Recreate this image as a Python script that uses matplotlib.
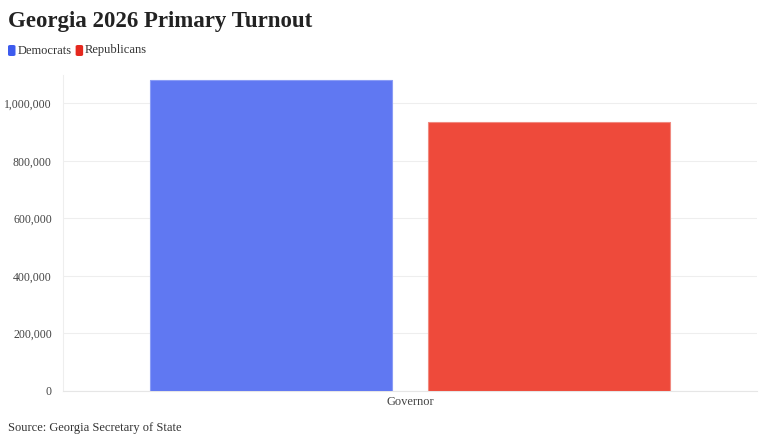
import matplotlib
matplotlib.use("Agg")
import matplotlib.pyplot as plt
from matplotlib.patches import FancyBboxPatch
from matplotlib.ticker import FuncFormatter

categories = ["Governor"]
parties = ["Democrats", "Republicans"]
dem_votes = [1081000]
rep_votes = [934000]
bar_colors = ["#6078F2", "#EE4A3B"]
legend_colors = ["#3D5BEE", "#E5281E"]
yticks = [0, 200000, 400000, 600000, 800000, 1000000]

plt.rcParams["font.family"] = ["Liberation Serif", "DejaVu Serif"]

fig = plt.figure(figsize=(7.68, 4.43), dpi=100)
ax = fig.add_axes([0.082, 0.118, 0.9037, 0.7136])

x = list(range(len(categories)))
w = 0.348
ax.bar([i - 0.2 for i in x], dem_votes, width=w, color=bar_colors[0],
       edgecolor="#8a9cf5", linewidth=0.8, zorder=3)
ax.bar([i + 0.2 for i in x], rep_votes, width=w, color=bar_colors[1],
       edgecolor="#f08a80", linewidth=0.8, zorder=3)

ax.set_xlim(-0.5, 0.5)
ax.set_ylim(0, 1100000)
ax.set_yticks(yticks)
ax.yaxis.set_major_formatter(FuncFormatter(lambda v, p: f"{int(v):,}"))
ax.set_xticks(x)
ax.set_xticklabels(categories)
ax.tick_params(axis="both", length=0, colors="#444444")
ax.tick_params(axis="y", labelsize=8.5, pad=8)
ax.tick_params(axis="x", labelsize=9, pad=4)
ax.grid(axis="y", color="#eeeeee", linewidth=0.8, zorder=0)
for s in ["top", "right"]:
    ax.spines[s].set_visible(False)
ax.spines["left"].set_color("#eeeeee")
ax.spines["bottom"].set_color("#e6e6e6")

fig.text(0.01, 1 - 21 / 443, "Georgia 2026 Primary Turnout", fontsize=16.5,
         fontweight="bold", color="#222222", va="center")

# legend
lx = 8
for name, c in zip(parties, legend_colors):
    fig.patches.append(FancyBboxPatch((lx / 768, 1 - 56 / 443), 7.5 / 768, 11 / 443,
                                      boxstyle="round,pad=0,rounding_size=0.003",
                                      transform=fig.transFigure, facecolor=c,
                                      edgecolor="none"))
    t = fig.text((lx + 9.5) / 768, 1 - 50.5 / 443, name, fontsize=9,
                 color="#333333", va="center")
    fig.canvas.draw()
    bb = t.get_window_extent()
    lx = bb.x1 + 4

fig.text(0.01, 1 - 428 / 443, "Source: Georgia Secretary of State", fontsize=9,
         color="#333333", va="center")

fig.savefig("out.png", dpi=100)
